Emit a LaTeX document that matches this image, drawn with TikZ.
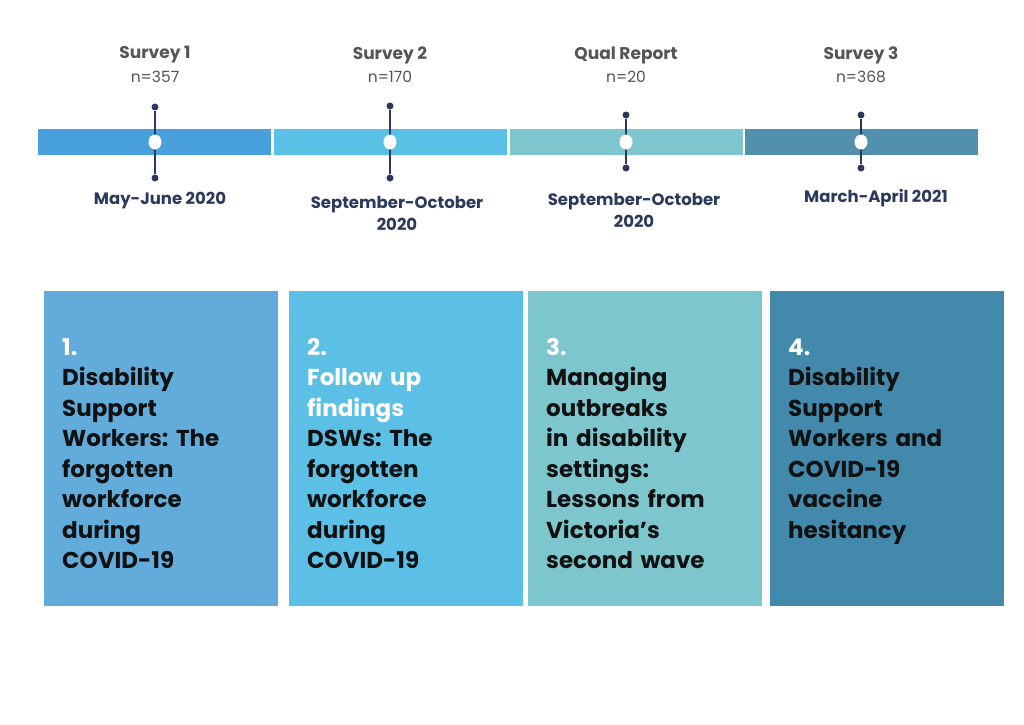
\documentclass[tikz,border=0pt]{standalone}
\usepackage{fontspec}
\setmainfont{Poppins}
\usetikzlibrary{positioning, shapes.geometric}
\definecolor{segA}{RGB}{74,160,220}
\definecolor{segB}{RGB}{91,192,230}
\definecolor{segC}{RGB}{125,198,206}
\definecolor{segD}{RGB}{83,144,174}
\definecolor{boxA}{RGB}{98,172,220}
\definecolor{boxB}{RGB}{91,191,230}
\definecolor{boxC}{RGB}{125,198,206}
\definecolor{boxD}{RGB}{66,137,171}
\definecolor{navy}{RGB}{43,58,92}
\definecolor{labelgray}{RGB}{85,85,85}
\definecolor{ink}{RGB}{17,17,17}
\frenchspacing

\begin{document}
\begin{tikzpicture}[
  x=1pt, y=-1pt,
  seg/.style={inner sep=0pt, minimum width=233pt, minimum height=26pt},
  dot/.style={circle, fill=navy, inner sep=0pt, minimum size=7pt},
  hole/.style={ellipse, fill=white, inner sep=0pt, minimum width=13pt, minimum height=15pt},
  stem/.style={navy, line width=1.8pt},
  survey/.style={font=\bfseries\fontsize{17}{20}\selectfont, text=labelgray, inner sep=0pt},
  count/.style={font=\fontsize{15.5}{20}\selectfont, text=labelgray, inner sep=0pt},
  date/.style={font=\bfseries\fontsize{16.5}{22}\selectfont, text=navy, align=center, inner sep=0pt},
  card/.style={inner sep=0pt, minimum width=234pt, minimum height=315pt},
  cardtext/.style={anchor=base west, inner sep=0pt, text width=210pt, align=left,
                   font=\bfseries\fontsize{23}{30.5}\selectfont, text=ink}
]
\useasboundingbox[fill=white] (0,0) rectangle (1024,724);

% ── Timeline bar ──
\node[seg, fill=segA] (s1) at (154.5,142) {};
\node[seg, fill=segB] (s2) at (390.5,142) {};
\node[seg, fill=segC] (s3) at (626,142) {};
\node[seg, fill=segD] (s4) at (861.5,142) {};

% ── Markers ──
\node[dot] (t1) at (155,107) {};
\node[dot] (b1) at (155,178) {};
\draw[stem] (t1) -- (b1);
\node[hole] (h1) at (155,142) {};

\node[dot] (t2) at (390,106) {};
\node[dot] (b2) at (390,178) {};
\draw[stem] (t2) -- (b2);
\node[hole] (h2) at (390,142) {};

\node[dot] (t3) at (626,115) {};
\node[dot] (b3) at (626,168) {};
\draw[stem] (t3) -- (b3);
\node[hole] (h3) at (626,142) {};

\node[dot] (t4) at (861,115) {};
\node[dot] (b4) at (861,168) {};
\draw[stem] (t4) -- (b4);
\node[hole] (h4) at (861,142) {};

% ── Labels above ──
\node[survey] (l1) at (155,55) {Survey 1};
\node[count]  (n1) at (155,77) {n=357};
\node[survey] (l2) at (390,55) {Survey 2};
\node[count]  (n2) at (390,77) {n=170};
\node[survey] (l3) at (626,55) {Qual Report};
\node[count]  (n3) at (626,77) {n=20};
\node[survey] (l4) at (861,55) {Survey 3};
\node[count]  (n4) at (861,77) {n=368};

% ── Dates below ──
\node[date] (d1) at (160,201) {May-June 2020};
\node[date, anchor=base] (d2) at (397,230) {September-October\\2020};
\node[date, anchor=base] (d3) at (634,227) {September-October\\2020};
\node[date] (d4) at (876,198) {March-April 2021};

% ── Cards ──
\node[card, fill=boxA] (c1) at (161,448.5) {};
\node[card, fill=boxB] (c2) at (406,448.5) {};
\node[card, fill=boxC] (c3) at (645,448.5) {};
\node[card, fill=boxD] (c4) at (887,448.5) {};

\node[cardtext] (x1) at (62,355)
  {\textcolor{white}{1.}\\Disability\\Support\\Workers: The\\forgotten\\workforce\\during\\COVID-19};
\node[cardtext] (x2) at (307,355)
  {\textcolor{white}{2.}\\\textcolor{white}{Follow up}\\\textcolor{white}{findings}\\DSWs: The\\forgotten\\workforce\\during\\COVID-19};
\node[cardtext] (x3) at (546,355)
  {\textcolor{white}{3.}\\Managing\\outbreaks\\in disability\\settings:\\Lessons from\\Victoria’s\\second wave};
\node[cardtext] (x4) at (788,355)
  {\textcolor{white}{4.}\\Disability\\Support\\Workers and\\COVID-19\\vaccine\\hesitancy};

\end{tikzpicture}
\end{document}
